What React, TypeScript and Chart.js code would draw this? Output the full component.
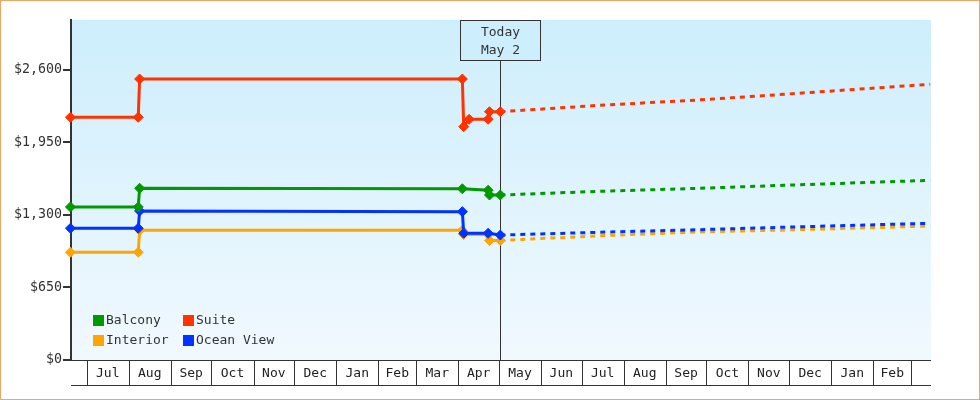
import { useEffect, useRef } from 'react';
import { Chart, registerables } from 'chart.js';

Chart.register(...registerables);

const FONT = "'DejaVu Sans Mono', monospace";
const TODAY = '2022-05-02';
const MONTHS = ['Jan', 'Feb', 'Mar', 'Apr', 'May', 'Jun', 'Jul', 'Aug', 'Sep', 'Oct', 'Nov', 'Dec'];
const Y_TICKS = [0, 650, 1300, 1950, 2600];

const SERIES_NAMES = ['Balcony', 'Suite', 'Interior', 'Ocean View'];
const SERIES_COLORS = ['#009900', '#ff3300', '#ffa500', '#0033ff'];

// price history up to today, then projected prices
const balconyDates = ['2021-06-19', '2021-08-08', '2021-08-09', '2022-04-04', '2022-04-23', '2022-04-24', '2022-05-02', '2022-07-14', '2022-09-25', '2022-11-27', '2023-03-15'];
const balconyPrices = [1372, 1372, 1540, 1535, 1522, 1479, 1479, 1512, 1539, 1566, 1611];

const suiteDates = ['2021-06-19', '2021-08-08', '2021-08-09', '2022-04-04', '2022-04-05', '2022-04-09', '2022-04-23', '2022-04-24', '2022-05-02', '2022-07-14', '2022-09-25', '2022-11-27', '2023-03-15'];
const suitePrices = [2176, 2176, 2519, 2519, 2092, 2158, 2158, 2226, 2226, 2283, 2331, 2382, 2472];

const interiorDates = ['2021-06-19', '2021-08-08', '2021-08-09', '2022-04-04', '2022-04-05', '2022-04-23', '2022-04-24', '2022-05-02', '2022-07-14', '2022-09-25', '2022-11-27', '2023-03-15'];
const interiorPrices = [966, 966, 1163, 1163, 1126, 1126, 1071, 1071, 1114, 1148, 1165, 1201];

const oceanDates = ['2021-06-19', '2021-08-08', '2021-08-09', '2022-04-04', '2022-04-05', '2022-04-23', '2022-05-02', '2022-07-14', '2022-09-25', '2022-11-27', '2023-03-15'];
const oceanPrices = [1181, 1181, 1336, 1330, 1136, 1136, 1120, 1145, 1168, 1190, 1226];

const X_MIN = -316.6;
const X_MAX = 317.6;
const Y_MAX = 3048;

const dayOffset = (d: string) => (Date.parse(d) - Date.parse(TODAY)) / 86400000;
const toPoints = (dates: string[], prices: number[]) =>
  dates.map((d, i) => ({ x: dayOffset(d), y: prices[i] }));

const backgroundPlugin = {
  id: 'bgGradient',
  beforeDraw(chart: any) {
    const { ctx, chartArea: a } = chart;
    const g = ctx.createLinearGradient(0, a.top, 0, a.bottom);
    g.addColorStop(0, '#cdeefc');
    g.addColorStop(1, '#f1f9fe');
    ctx.save();
    ctx.fillStyle = g;
    ctx.fillRect(a.left, a.top, a.right - a.left, a.bottom - a.top);
    ctx.restore();
  },
};

const monthBandPlugin = {
  id: 'monthBand',
  afterDraw(chart: any) {
    const { ctx, chartArea: a } = chart;
    const x = chart.scales.x;
    const top = Math.round(a.bottom) + 0.5;
    const bottom = top + 25;
    ctx.save();
    ctx.strokeStyle = '#333';
    ctx.lineWidth = 1;
    ctx.beginPath();
    ctx.moveTo(a.left, top);
    ctx.lineTo(a.right, top);
    ctx.moveTo(a.left, bottom);
    ctx.lineTo(a.right, bottom);
    const t = new Date(TODAY);
    const starts: { off: number; m: number }[] = [];
    for (let k = -13; k <= 13; k++) {
      const y = t.getUTCFullYear();
      const m = t.getUTCMonth() + k;
      const d = new Date(Date.UTC(y, m, 1));
      starts.push({ off: (d.getTime() - Date.parse(TODAY)) / 86400000, m: d.getUTCMonth() });
    }
    starts.forEach((s) => {
      if (s.off > X_MIN && s.off < X_MAX) {
        const px = Math.round(x.getPixelForValue(s.off)) + 0.5;
        ctx.moveTo(px, top);
        ctx.lineTo(px, bottom);
      }
    });
    ctx.stroke();
    ctx.fillStyle = '#222';
    ctx.font = `13px ${FONT}`;
    ctx.textAlign = 'center';
    ctx.textBaseline = 'middle';
    for (let i = 0; i < starts.length - 1; i++) {
      const s = starts[i];
      const n = starts[i + 1];
      if (s.off >= X_MIN && n.off <= X_MAX) {
        const cx = (x.getPixelForValue(s.off) + x.getPixelForValue(n.off)) / 2;
        ctx.fillText(MONTHS[s.m], cx, (top + bottom) / 2 + 1);
      }
    }
    ctx.restore();
  },
};

const todayPlugin = {
  id: 'todayMarker',
  beforeDatasetsDraw(chart: any) {
    const { ctx, chartArea: a } = chart;
    const px = Math.round(chart.scales.x.getPixelForValue(0)) + 0.5;
    const boxTop = Math.round(a.top) + 0.5;
    ctx.save();
    ctx.fillStyle = '#cdeefc';
    ctx.strokeStyle = '#333';
    ctx.lineWidth = 1;
    ctx.fillRect(px - 40, boxTop, 80, 40);
    ctx.strokeRect(px - 40, boxTop, 80, 40);
    ctx.beginPath();
    ctx.moveTo(px, boxTop + 40);
    ctx.lineTo(px, a.bottom);
    ctx.stroke();
    const t = new Date(TODAY);
    ctx.fillStyle = '#333';
    ctx.font = `13px ${FONT}`;
    ctx.textAlign = 'center';
    ctx.textBaseline = 'middle';
    ctx.fillText('Today', px, boxTop + 12);
    ctx.fillText(`${MONTHS[t.getUTCMonth()]} ${t.getUTCDate()}`, px, boxTop + 30);
    ctx.restore();
  },
};

const legendPlugin = {
  id: 'insideLegend',
  afterDatasetsDraw(chart: any) {
    const { ctx, chartArea: a } = chart;
    ctx.save();
    ctx.font = `13px ${FONT}`;
    ctx.textAlign = 'left';
    ctx.textBaseline = 'middle';
    SERIES_NAMES.forEach((name, i) => {
      const col = i % 2;
      const row = Math.floor(i / 2);
      const sx = a.left + 22 + col * 90;
      const sy = a.bottom - 45 + row * 20;
      ctx.fillStyle = SERIES_COLORS[i];
      ctx.fillRect(sx, sy, 11, 11);
      ctx.fillStyle = '#333';
      ctx.fillText(name, sx + 13, sy + 6);
    });
    ctx.restore();
  },
};

export default function App() {
  const chartRef = useRef<HTMLCanvasElement>(null);
  const chartInstanceRef = useRef<Chart | null>(null);

  useEffect(() => {
    if (!chartRef.current) return;
    const ctx = chartRef.current.getContext('2d');
    if (!ctx) return;

    if (chartInstanceRef.current) {
      chartInstanceRef.current.destroy();
    }

    const series = [
      toPoints(balconyDates, balconyPrices),
      toPoints(suiteDates, suitePrices),
      toPoints(interiorDates, interiorPrices),
      toPoints(oceanDates, oceanPrices),
    ];

    chartInstanceRef.current = new Chart(ctx, {
      type: 'line',
      data: {
        datasets: series.map((data, i) => ({
          label: SERIES_NAMES[i],
          data,
          order: i === 2 ? 1 : 0,
          borderColor: SERIES_COLORS[i],
          backgroundColor: SERIES_COLORS[i],
          borderWidth: 3,
          tension: 0,
          clip: false,
          pointStyle: 'rectRot',
          pointRadius: (c: any) => (c.raw && c.raw.x > 0 ? 0 : 5),
          pointBorderWidth: 1,
          pointHoverRadius: 0,
          segment: {
            borderDash: (c: any) => (c.p0.parsed.x >= 0 ? [5, 5] : undefined),
          },
        })),
      },
      plugins: [backgroundPlugin, todayPlugin, legendPlugin, monthBandPlugin],
      options: {
        animation: false,
        responsive: true,
        maintainAspectRatio: false,
        layout: { padding: { top: 19, right: 48, bottom: 39, left: 0 } },
        font: { family: FONT },
        scales: {
          x: {
            type: 'linear',
            display: false,
            min: X_MIN,
            max: X_MAX,
          },
          y: {
            min: 0,
            max: Y_MAX,
            afterBuildTicks: (s: any) => {
              s.ticks = Y_TICKS.map((v) => ({ value: v }));
            },
            afterFit: (s: any) => {
              s.width = 70;
            },
            border: { display: true, color: '#333', width: 2 },
            grid: { drawOnChartArea: false, drawTicks: true, tickLength: 8, color: '#333', lineWidth: 2 },
            ticks: {
              padding: 1,
              color: '#333',
              font: { family: FONT, size: 13.3 },
              callback: (v: any) => '$' + Number(v).toLocaleString('en-US'),
            },
          },
        },
        plugins: {
          legend: { display: false },
          tooltip: { enabled: false },
        },
      },
    } as any);

    return () => {
      if (chartInstanceRef.current) {
        chartInstanceRef.current.destroy();
        chartInstanceRef.current = null;
      }
    };
  }, []);

  return (
    <div
      style={{
        position: 'absolute',
        left: 0,
        top: 0,
        width: 980,
        height: 400,
        boxSizing: 'border-box',
        border: '1px solid #e9a964',
        background: '#fff',
      }}
    >
      <div style={{ position: 'relative', width: 978, height: 398 }}>
        <canvas ref={chartRef} />
      </div>
    </div>
  );
}
